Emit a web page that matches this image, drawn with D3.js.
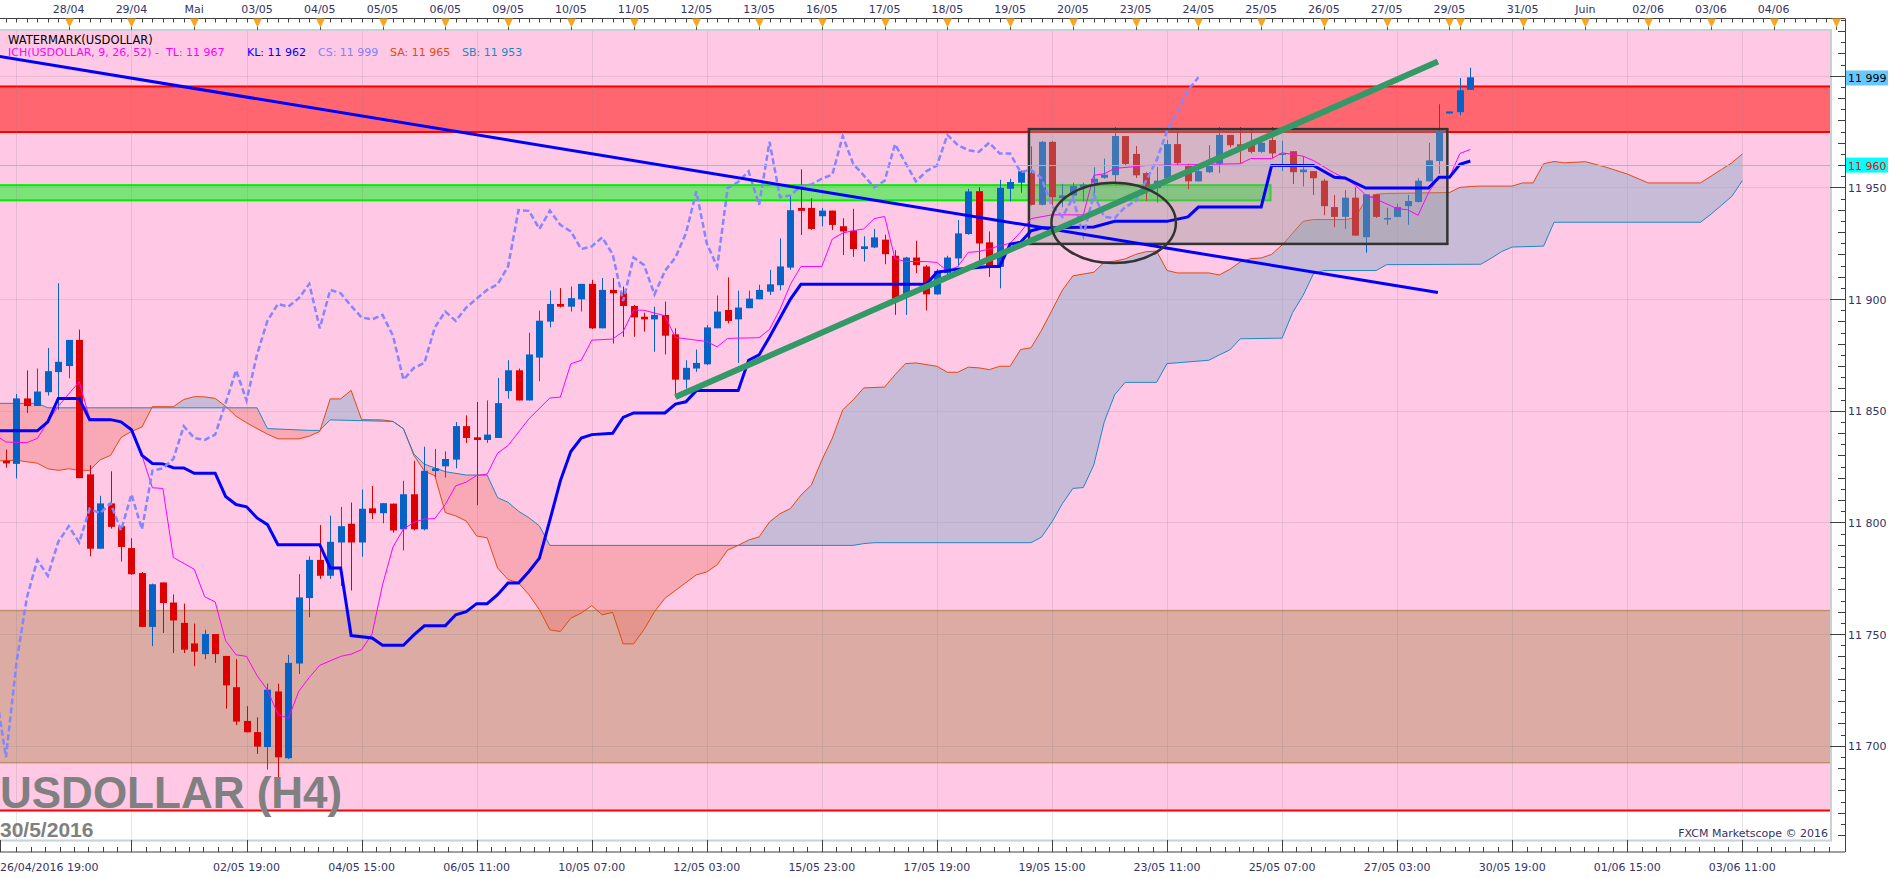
<!DOCTYPE html>
<html>
<head>
<meta charset="utf-8">
<script src="https://cdn.jsdelivr.net/npm/d3@7"></script>
<style>
body { margin: 0; background: #fff; }
svg { display: block; }
text { font-family: "DejaVu Sans", Verdana, sans-serif; }
</style>
</head>
<body>
<script>
var w = 1903,
    h = 878;

var plotL = 0, plotR = 1830, plotT = 31, plotB = 840;
var axisX = 1845, topAxisY = 18.5, botAxisY = 852;

// candles, H4, first visible bar is bar 1
var firstBar = 1;
var opens  = [11827.6,11826.2,11855.5,11852.1,11858.3,11867.3,11870.0,11881.7,11821.5,11788.2,
              11808.5,11798.3,11788.5,11777.3,11753.2,11773.1,11764.1,11755.0,11745.8,11741.0,
              11750.0,11740.2,11726.2,11711.1,11706.1,11699.4,11724.3,11694.4,11736.8,11766.1,
              11783.2,11776.1,11791.0,11799.4,11791.0,11806.3,11804.1,11808.4,11796.9,11812.6,
              11796.9,11823.0,11825.1,11828.1,11843.1,11838.1,11836.9,11837.8,11858.8,11868.1,
              11854.6,11873.8,11889.9,11897.8,11896.6,11899.9,11906.8,11886.9,11904.1,11902.9,
              11896.9,11892.1,11890.9,11892.9,11884.2,11863.9,11868.9,11870.8,11886.9,11895.1,
              11890.9,11895.9,11899.9,11903.3,11906.2,11914.1,11940.8,11940.8,11937.1,11939.6,
              11932.6,11930.6,11922.4,11923.1,11926.6,11919.4,11901.4,11918.6,11914.6,11902.1,
              11911.6,11918.2,11929.1,11948.3,11925.4,11914.4,11949.4,11952.1,11956.4,11942.2,
              11970.4,11945.2,11946.4,11950.1,11952.1,11954.3,11955.5,11973.0,11965.0,11956.4,
              11949.7,11954.1,11969.4,11959.8,11952.7,11956.8,11960.6,11973.5,11969.3,11969.3,
              11965.9,11971.2,11964.6,11966.2,11956.8,11957.3,11953.0,11941.2,11936.8,11945.4,
              11927.7,11946.9,11936.0,11936.8,11941.6,11943.5,11952.7,11961.8,11983.1,11983.7,
              11993.7];
var highs  = [11832.6,11857.5,11868.0,11868.9,11878.1,11907.1,11881.7,11886.3,11825.6,11811.9,
              11822.9,11798.3,11792.9,11777.8,11772.6,11773.1,11767.7,11763.6,11754.7,11751.9,
              11750.0,11740.2,11738.8,11717.7,11712.7,11727.8,11727.8,11740.7,11776.8,11784.8,
              11798.8,11803.0,11806.9,11808.9,11814.7,11816.3,11808.6,11808.4,11818.6,11827.6,
              11833.9,11832.9,11831.8,11844.9,11847.9,11853.9,11854.6,11864.7,11872.6,11868.9,
              11884.9,11894.8,11903.8,11904.9,11905.6,11906.8,11908.6,11909.4,11909.4,11905.6,
              11897.4,11893.9,11896.6,11898.9,11886.9,11872.6,11877.4,11888.4,11901.6,11909.7,
              11903.8,11903.8,11906.4,11913.1,11927.2,11946.1,11958.1,11945.2,11940.8,11939.6,
              11936.2,11940.4,11928.1,11931.4,11928.8,11921.9,11918.9,11926.1,11915.3,11913.4,
              11919.4,11935.4,11949.4,11950.1,11930.3,11953.4,11953.9,11957.6,11968.4,11970.8,
              11970.8,11951.6,11952.1,11952.1,11959.0,11962.9,11977.0,11973.0,11968.5,11956.8,
              11959.1,11971.2,11975.0,11960.6,11959.8,11968.9,11977.0,11973.5,11977.0,11975.8,
              11973.1,11977.0,11970.9,11966.2,11963.9,11957.3,11953.8,11946.6,11948.8,11950.0,
              11946.9,11946.9,11940.9,11942.7,11946.6,11954.1,11970.0,11987.2,11984.0,11999.0,
              12003.6];
var lows   = [11824.5,11819.7,11849.0,11852.1,11856.8,11850.5,11864.5,11819.8,11784.8,11788.2,
              11797.2,11782.5,11776.5,11753.2,11744.6,11750.5,11741.5,11741.5,11735.6,11738.7,
              11737.1,11716.6,11709.3,11706.0,11696.3,11689.3,11683.0,11694.0,11732.1,11757.5,
              11774.7,11774.7,11771.5,11769.5,11784.6,11801.5,11799.6,11795.4,11787.4,11796.4,
              11796.4,11820.1,11820.1,11824.2,11835.6,11807.7,11835.6,11837.8,11855.4,11854.6,
              11854.6,11863.2,11887.3,11896.2,11894.4,11894.4,11886.6,11886.9,11880.1,11883.1,
              11883.1,11885.4,11876.4,11875.2,11856.1,11859.9,11867.4,11870.4,11886.9,11889.1,
              11871.4,11895.9,11899.9,11901.8,11903.9,11913.1,11928.7,11931.0,11932.6,11930.9,
              11919.7,11918.9,11916.8,11922.8,11915.6,11892.9,11892.9,11911.6,11894.9,11901.8,
              11910.7,11914.6,11928.8,11915.9,11909.9,11904.8,11943.7,11947.6,11941.9,11941.9,
              11941.9,11941.1,11945.6,11943.7,11946.4,11953.9,11951.2,11959.6,11954.2,11943.9,
              11943.2,11953.0,11959.8,11949.2,11952.7,11956.4,11956.4,11967.9,11960.6,11965.2,
              11965.5,11962.9,11957.3,11951.5,11950.4,11946.6,11937.5,11932.1,11931.5,11928.4,
              11920.8,11936.3,11933.3,11936.6,11933.3,11943.2,11952.7,11956.1,11983.1,11982.3,
              11993.7];
var closes = [11826.4,11855.5,11852.1,11858.6,11867.7,11871.9,11881.7,11819.8,11788.2,11808.5,
              11798.0,11789.0,11776.8,11753.2,11772.3,11763.9,11756.1,11743.0,11742.1,11750.0,
              11741.0,11727.0,11710.8,11706.0,11699.6,11725.1,11694.8,11737.1,11766.4,11783.2,
              11776.1,11791.3,11798.3,11791.0,11806.1,11804.1,11808.6,11796.4,11812.6,11796.9,
              11823.1,11824.2,11828.4,11843.1,11837.8,11836.9,11839.3,11853.4,11868.1,11854.6,
              11875.2,11890.3,11897.8,11896.6,11900.4,11906.8,11886.9,11904.1,11902.6,11896.9,
              11891.8,11890.9,11892.9,11883.6,11863.9,11869.2,11871.4,11887.3,11894.4,11890.2,
              11896.2,11900.2,11904.1,11906.6,11914.6,11939.8,11939.5,11931.4,11939.6,11933.2,
              11930.3,11922.4,11923.6,11927.6,11920.1,11899.1,11918.6,11915.2,11902.1,11912.6,
              11918.6,11929.4,11948.2,11924.9,11914.4,11949.8,11952.4,11957.2,11942.2,11970.4,
              11945.6,11946.4,11950.6,11951.3,11953.9,11955.7,11973.0,11960.5,11955.4,11950.0,
              11953.0,11969.4,11960.9,11952.7,11957.3,11959.8,11973.5,11968.9,11966.7,11965.9,
              11970.0,11965.2,11965.2,11956.8,11958.0,11954.1,11941.6,11936.8,11945.4,11928.4,
              11946.9,11936.8,11936.3,11941.2,11943.9,11953.0,11962.1,11975.3,11984.0,11993.5,
              11999.3];

// ichimoku lines: [bar, price]
var tenkan = [[0,11839],[1,11836],[3,11835.7],[4,11837.6],[5,11845],[6,11852],[7,11857.5],[8,11863],
  [9,11846.5],[11,11846.2],[12,11845],[13,11842],[14,11830],[15,11815.5],[16,11815.2],[17,11784.3],
  [19,11779],[20,11766.7],[21,11764.4],[22,11747],[23,11740.7],[24,11740],[25,11731.4],[26,11725],
  [27,11714],[28,11712.2],[29,11724.4],[30,11730.6],[31,11736],[33,11740],[34,11741],[35,11743],
  [36,11750],[37,11772],[38,11789],[39,11797],[40,11800],[41,11801.5],[42,11801.7],[43,11808],
  [44,11816.4],[45,11818],[46,11821],[47,11821.6],[48,11831],[49,11834.4],[51,11846.4],[53,11855.7],
  [54,11856.1],[55,11871],[56,11872.6],[57,11881.6],[59,11882.1],[60,11885.4],[61,11895.1],[62,11895],
  [64,11892.5],[65,11882.8],[68,11881],[69,11878.6],[70,11882.4],[73,11882.7],[74,11886.4],[75,11895.4],
  [76,11906.6],[77,11914.6],[79,11914.6],[80,11926.9],[81,11929.6],[82,11930.6],[83,11931.4],[84,11936],
  [85,11937],[86,11918],[87,11916.8],[89,11916.8],[90,11916.4],[91,11912.6],[92,11914.6],[93,11920.9],
  [94,11921.3],[95,11922.4],[96,11923.9],[97,11925],[98,11930],[99,11936],[101,11937.7],[104,11937.7],
  [105,11955.4],[106,11956.1],[107,11958.5],[110,11959.8],[119,11960.6],[120,11962.9],[122,11962.9],
  [123,11965.5],[125,11964],[126,11962],[128,11956.4],[129,11954.2],[130,11951],[131,11946.6],
  [132,11944.7],[134,11940.5],[135,11940],[136,11937.5],[137,11947.7],[138,11954.5],[139,11954.5],
  [140,11965.2],[141,11967]];

var kijun = [[0,11841],[4,11841],[5,11845],[6,11855.5],[8,11855.5],[9,11846],[11,11846],[12,11845],
  [13,11841.5],[14,11830],[15,11826.4],[16,11826.2],[17,11824.5],[18,11824.4],[19,11822],[21,11822],
  [22,11811.6],[23,11808],[24,11807],[25,11802],[26,11799],[27,11790],[31,11790],[32,11779.6],
  [33,11779.6],[34,11749.3],[36,11748.2],[37,11745],[39,11745],[40,11749.6],[41,11753.7],[43,11753.7],
  [44,11758.6],[45,11760],[46,11763.6],[47,11763.6],[48,11767.6],[49,11772.9],[50,11772.9],[51,11778],
  [52,11784],[53,11801],[54,11818.6],[55,11831.7],[56,11837.8],[57,11839.3],[59,11839.9],[60,11847],
  [61,11849],[64,11849],[65,11853],[66,11854],[67,11859],[71,11859],[72,11872.6],[73,11875],
  [74,11883],[75,11891.5],[76,11900],[77,11906.6],[89,11906.6],[90,11912],[92,11913.4],[95,11914.6],
  [96,11914.6],[97,11924.6],[98,11925.4],[99,11930.6],[100,11931.8],[105,11932.3],[107,11934.8],
  [112,11934.8],[114,11936.8],[115,11941.2],[121,11941.2],[122,11959.8],[126,11959.8],[128,11954.5],
  [129,11954.2],[131,11949.7],[137,11949.7],[138,11954.5],[139,11954.5],[140,11960.3],[141,11961.8]];

var senkouA = [[0,11827.5],[2,11827.8],[4,11826.5],[5,11824],[6,11823.3],[7,11824],[8,11823.3],[9,11823.3],
  [10,11828],[11,11830],[12,11838],[13,11840.7],[14,11842.7],[15,11851.8],[17,11851.8],[18,11855],
  [19,11856.3],[20,11856.2],[21,11855.5],[22,11852],[23,11847.5],[24,11844.6],[25,11842],[26,11839.5],
  [27,11837.4],[29,11837.4],[30,11838.6],[31,11840.7],[32,11855.3],[33,11855.3],[34,11859.1],[35,11846],
  [37,11845.9],[38,11845.2],[39,11841.9],[40,11830],[41,11823],[42,11820.9],[43,11804.4],[44,11802.9],
  [45,11800.6],[46,11793.9],[47,11793.1],[48,11779.6],[49,11774.4],[50,11772.9],[51,11767.6],[52,11760.9],
  [53,11751.9],[54,11751.1],[55,11757.1],[56,11759.4],[57,11762.7],[58,11758.6],[59,11759.7],[60,11745.6],
  [61,11745.6],[62,11752],[63,11760],[64,11766],[65,11769.5],[66,11773],[67,11776.5],[68,11777.8],
  [69,11781.1],[70,11787.6],[71,11789.7],[72,11792.1],[73,11793.5],[74,11800.2],[75,11803.9],[76,11806.2],
  [77,11812.2],[78,11816.7],[79,11827.9],[80,11837.7],[81,11850.4],[82,11854.9],[83,11860.2],[85,11860.6],
  [86,11866.1],[87,11871.1],[88,11871.4],[90,11869.9],[91,11867.2],[92,11867.2],[93,11869.5],[94,11869.2],
  [95,11868.4],[96,11869.9],[97,11869.9],[98,11877.4],[99,11878.2],[100,11886],[101,11895],[102,11904],
  [103,11910.4],[105,11912],[106,11916.5],[107,11917],[108,11918],[109,11920],[110,11921.2],[111,11921.5],
  [112,11912.8],[113,11911.7],[116,11911.7],[117,11910.8],[118,11913.3],[119,11916.6],[120,11918.1],
  [121,11918.4],[122,11920],[123,11924.2],[124,11929.5],[125,11934.8],[126,11935.6],[129,11935.6],
  [130,11936.3],[131,11944.7],[132,11946.9],[133,11947.3],[139,11947.7],[140,11950],[141,11950.4],
  [142,11950.6],[145,11950.6],[146,11952],[147,11952],[148,11960.6],[149,11961.6],[150,11961],
  [152,11961.5],[154,11959],[156,11956],[158,11952],[163,11952],[164,11955],[165,11958],[166,11961],
  [167,11965]];

var senkouB = [[0,11853.3],[4,11853.3],[5,11851.3],[25,11851.3],[26,11842],[30,11841.2],[31,11841.2],
  [32,11845.9],[38,11845.2],[39,11841.9],[40,11830.6],[41,11826.1],[43,11822.7],[45,11821.2],[47,11821.2],
  [48,11811.1],[49,11809],[50,11805],[51,11802.1],[52,11798.4],[53,11789.7],[82,11789.7],[83,11790.5],
  [84,11790.9],[99,11790.9],[100,11793.4],[101,11800.2],[102,11808.4],[103,11815.2],[104,11815.6],
  [105,11825.7],[106,11845],[107,11857.2],[108,11862.7],[111,11862.7],[112,11871.1],[116,11872.6],
  [117,11875],[118,11877.2],[119,11882.2],[123,11882.5],[124,11893.9],[125,11901.6],[126,11911.3],
  [127,11912.8],[132,11912.8],[133,11915.4],[142,11915.6],[143,11918.3],[144,11921.3],[145,11923.3],
  [148,11923.7],[149,11934.4],[163,11934.4],[164,11938],[165,11942],[166,11946],[167,11953]];

var chikouShift = 26;

// drawn objects, in [bar, price]
var downTrend = [[0, 12008.9], [137.9, 11902.9]];
var upTrend = [[65, 11856.1], [137.9, 12006.4]];
var boxBars = [98.8, 138.8], boxPrices = [11976.1, 11924.7];
var ellipseCenter = [106.9, 11934.1], ellipseRadius = [5.95, 18.0];

// price zones
var pinkFloor = 11671;
var redZone = [11974.8, 11995.2];
var greenZone = [11944.2, 11951], greenEndBar = 121.9;
var brownZone = [11692.4, 11760.5];
var cyanLevel = 11960;

// axes
var priceTicks = [11700, 11750, 11800, 11850, 11900, 11950];
var dayBars = [7,13,19,25,31,37,43,49,55,61,67,73,79,85,91,97,103,109,115,121,127,133,139,140,146,152,158,164,170,176];
var dayLabels = ['28/04','29/04','Mai','03/05','04/05','05/05','06/05','09/05','10/05','11/05','12/05','13/05',
  '16/05','17/05','18/05','19/05','20/05','23/05','24/05','25/05','26/05','27/05','29/05','','31/05','Juin',
  '02/06','03/06','04/06',''];
var timeBars = [24,35,46,57,68,79,90,101,112,123,134,145,156,167];
var timeLabels = ['02/05 19:00','04/05 15:00','06/05 11:00','10/05 07:00','12/05 03:00','15/05 23:00',
  '17/05 19:00','19/05 15:00','23/05 11:00','25/05 07:00','27/05 03:00','30/05 19:00','01/06 15:00','03/06 11:00'];
var firstTimeLabel = '26/04/2016 19:00';

var x = d3.scaleLinear().domain([0, 100]).range([-4.5, 1041.5]);
var y = d3.scaleLinear().domain([11700, 11950]).range([745.7, 187.4]);

var fmt = d3.formatLocale({decimal: '.', thousands: ' ', grouping: [3], currency: ['', '']}).format(',d');

var svg = d3.select('body')
          .append('svg')
          .attr('width', w)
          .attr('height', h);

var defs = svg.append('defs');
defs.append('clipPath').attr('id', 'plotClip')
    .append('rect')
    .attr('x', plotL).attr('y', plotT)
    .attr('width', plotR - plotL).attr('height', plotB - plotT);

var belowArea = function(d) {
  return d3.area().x(function(p) { return x(p[0]); })
    .y0(plotB + 20).y1(function(p) { return y(p[1]); })(d);
};
var aboveArea = function(d) {
  return d3.area().x(function(p) { return x(p[0]); })
    .y0(function(p) { return y(p[1]); }).y1(plotT - 20)(d);
};
defs.append('clipPath').attr('id', 'belowSA').append('path').attr('d', belowArea(senkouA));
defs.append('clipPath').attr('id', 'belowSB').append('path').attr('d', belowArea(senkouB));

var line = d3.line()
          .x(function(d) { return x(d[0]); })
          .y(function(d) { return y(d[1]); });

var plot = svg.append('g').attr('clip-path', 'url(#plotClip)');

// zones
plot.append('rect')
    .attr('x', plotL).attr('y', plotT)
    .attr('width', plotR - plotL).attr('height', y(pinkFloor) - plotT)
    .attr('fill', '#ffc9e5');

plot.append('rect')
    .attr('x', plotL - 2).attr('y', y(redZone[1]))
    .attr('width', plotR - plotL + 4).attr('height', y(redZone[0]) - y(redZone[1]))
    .attr('fill', '#ff6670').attr('stroke', '#ff0000').attr('stroke-width', 2);

plot.append('rect')
    .attr('x', plotL - 5).attr('y', y(greenZone[1]))
    .attr('width', x(greenEndBar) + 5).attr('height', y(greenZone[0]) - y(greenZone[1]))
    .attr('fill', '#7ee27a').attr('stroke', '#00ee00').attr('stroke-width', 2);

plot.append('rect')
    .attr('x', plotL - 2).attr('y', y(brownZone[1]))
    .attr('width', plotR - plotL + 4).attr('height', y(brownZone[0]) - y(brownZone[1]))
    .attr('fill', '#dcaba4').attr('stroke', '#c0906a').attr('stroke-width', 1.5);

plot.append('line')
    .attr('x1', plotL).attr('x2', plotR)
    .attr('y1', y(pinkFloor)).attr('y2', y(pinkFloor))
    .attr('stroke', '#ff0000').attr('stroke-width', 2);

// grid
var gridBars = d3.range(2, 178, 11);
plot.selectAll('.vgrid').data(gridBars).enter().append('line')
    .attr('x1', function(d) { return Math.round(x(d)) + 0.5; })
    .attr('x2', function(d) { return Math.round(x(d)) + 0.5; })
    .attr('y1', plotT).attr('y2', plotB)
    .attr('stroke', 'rgba(128,128,128,0.2)');
plot.selectAll('.hgrid').data(d3.range(11650, 12050, 50)).enter().append('line')
    .attr('x1', plotL).attr('x2', plotR)
    .attr('y1', function(d) { return Math.round(y(d)) + 0.5; })
    .attr('y2', function(d) { return Math.round(y(d)) + 0.5; })
    .attr('stroke', 'rgba(128,128,128,0.2)');

// cloud
plot.append('g').attr('clip-path', 'url(#belowSA)')
    .append('path').attr('d', aboveArea(senkouB))
    .attr('fill', 'rgba(145,174,204,0.5)');
plot.append('g').attr('clip-path', 'url(#belowSB)')
    .append('path').attr('d', aboveArea(senkouA))
    .attr('fill', 'rgba(240,120,110,0.4)');

plot.append('path').attr('d', line(senkouA))
    .attr('fill', 'none').attr('stroke', '#e04a14').attr('stroke-width', 1);
plot.append('path').attr('d', line(senkouB))
    .attr('fill', 'none').attr('stroke', '#1e88c4').attr('stroke-width', 1);

// candles
var candles = opens.map(function(o, k) {
  return {bar: firstBar + k, o: o, h: highs[k], l: lows[k], c: closes[k]};
});
var cg = plot.selectAll('.candle').data(candles).enter().append('g');
cg.append('line')
    .attr('x1', function(d) { return Math.round(x(d.bar)) + 0.5; })
    .attr('x2', function(d) { return Math.round(x(d.bar)) + 0.5; })
    .attr('y1', function(d) { return y(d.h); })
    .attr('y2', function(d) { return y(d.l); })
    .attr('stroke', function(d) { return d.c >= d.o ? '#0562c6' : '#dd0000'; })
    .attr('stroke-width', 1);
cg.append('rect')
    .attr('x', function(d) { return Math.round(x(d.bar)) - 3; })
    .attr('width', 7)
    .attr('y', function(d) { return y(Math.max(d.o, d.c)); })
    .attr('height', function(d) { return Math.max(1.5, Math.abs(y(d.o) - y(d.c))); })
    .attr('fill', function(d) { return d.c >= d.o ? '#0562c6' : '#dd0000'; });

// box
plot.append('rect')
    .attr('x', x(boxBars[0])).attr('y', y(boxPrices[0]))
    .attr('width', x(boxBars[1]) - x(boxBars[0]))
    .attr('height', y(boxPrices[1]) - y(boxPrices[0]))
    .attr('fill', 'rgba(150,150,150,0.4)')
    .attr('stroke', '#333').attr('stroke-width', 2.5);

// indicator lines
plot.append('path').attr('d', line(tenkan))
    .attr('fill', 'none').attr('stroke', '#ff00ff').attr('stroke-width', 1);
plot.append('path').attr('d', line(kijun))
    .attr('fill', 'none').attr('stroke', '#0000ff').attr('stroke-width', 3);
plot.append('path')
    .attr('d', line(candles.map(function(d) { return [d.bar - chikouShift, d.c]; })))
    .attr('fill', 'none').attr('stroke', '#8585ff').attr('stroke-width', 2.5)
    .attr('stroke-dasharray', '6,3');

plot.append('line')
    .attr('x1', plotL).attr('x2', plotR)
    .attr('y1', y(cyanLevel) + 0.5).attr('y2', y(cyanLevel) + 0.5)
    .attr('stroke', '#00ffff').attr('stroke-width', 1);

// trend lines and ellipse
plot.append('path').attr('d', line(downTrend))
    .attr('stroke', '#0000ff').attr('stroke-width', 3).attr('fill', 'none');
plot.append('path').attr('d', line(upTrend))
    .attr('stroke', '#339966').attr('stroke-width', 6).attr('fill', 'none');
plot.append('ellipse')
    .attr('cx', x(ellipseCenter[0])).attr('cy', y(ellipseCenter[1]))
    .attr('rx', x(ellipseCenter[0] + ellipseRadius[0]) - x(ellipseCenter[0]))
    .attr('ry', y(ellipseCenter[1] - ellipseRadius[1]) - y(ellipseCenter[1]))
    .attr('fill', 'none').attr('stroke', '#333').attr('stroke-width', 2.5);

// legend
svg.append('text').attr('x', 8).attr('y', 44)
    .attr('font-size', 11.5).attr('fill', '#000').text('WATERMARK(USDOLLAR)');
var legendParts = [
  {x: 8, t: 'ICH(USDOLLAR, 9, 26, 52) -  TL: 11 967', c: '#ff00ff'},
  {x: 247, t: 'KL: 11 962', c: '#0000ff'},
  {x: 318, t: 'CS: 11 999', c: '#8080ff'},
  {x: 390, t: 'SA: 11 965', c: '#e04a14'},
  {x: 462, t: 'SB: 11 953', c: '#1e88c4'}
];
svg.selectAll('.leg').data(legendParts).enter().append('text')
    .attr('x', function(d) { return d.x; }).attr('y', 56)
    .attr('font-size', 11).attr('fill', function(d) { return d.c; })
    .attr('xml:space', 'preserve')
    .style('white-space', 'pre')
    .text(function(d) { return d.t; });

svg.append('text').attr('x', 0).attr('y', 808)
    .style('font-family', '"Liberation Sans", Arial, sans-serif')
    .attr('font-size', 44).attr('font-weight', 'bold').attr('fill', '#808080')
    .text('USDOLLAR (H4)');
svg.append('text').attr('x', 0).attr('y', 837)
    .style('font-family', '"Liberation Sans", Arial, sans-serif')
    .attr('font-size', 21).attr('font-weight', 'bold').attr('fill', '#808080')
    .text('30/5/2016');
svg.append('text').attr('x', 1828).attr('y', 837)
    .attr('text-anchor', 'end').attr('font-size', 11).attr('fill', '#333366')
    .text('FXCM Marketscope © 2016');

// plot frame
svg.append('rect')
    .attr('x', plotL - 2).attr('y', plotT - 1)
    .attr('width', plotR - plotL + 3).attr('height', plotB - plotT + 1.5)
    .attr('fill', 'none').attr('stroke', '#c8d0d8').attr('stroke-width', 2);

// top axis
var axisCol = '#404040', labCol = '#333366';
svg.append('line').attr('x1', 0).attr('x2', axisX)
    .attr('y1', topAxisY).attr('y2', topAxisY).attr('stroke', axisCol);
svg.selectAll('.tmin').data(d3.range(0, 177)).enter().append('line')
    .attr('x1', function(d) { return Math.round(x(d)) + 0.5; })
    .attr('x2', function(d) { return Math.round(x(d)) + 0.5; })
    .attr('y1', topAxisY).attr('y2', topAxisY + 4)
    .attr('stroke', axisCol);
var dg = svg.selectAll('.day').data(dayBars).enter().append('g');
dg.append('line')
    .attr('x1', function(d) { return Math.round(x(d)) + 0.5; })
    .attr('x2', function(d) { return Math.round(x(d)) + 0.5; })
    .attr('y1', topAxisY).attr('y2', 30)
    .attr('stroke', '#555');
dg.append('path')
    .attr('d', function(d) {
      var cx = Math.round(x(d)) + 0.5;
      return 'M' + (cx - 4.5) + ',' + topAxisY + 'L' + (cx + 4.5) + ',' + topAxisY + 'L' + cx + ',' + (topAxisY + 9) + 'Z';
    })
    .attr('fill', '#f6a623');
dg.append('text')
    .attr('x', function(d) { return x(d); }).attr('y', 13)
    .attr('text-anchor', 'middle').attr('font-size', 11).attr('fill', labCol)
    .text(function(d, k) { return dayLabels[k]; });

// bottom axis
svg.append('line').attr('x1', 0).attr('x2', axisX)
    .attr('y1', botAxisY).attr('y2', botAxisY).attr('stroke', axisCol);
var minorBars = d3.range(2, 176, 11 / 8);
svg.selectAll('.bmin').data(minorBars).enter().append('line')
    .attr('x1', function(d) { return Math.round(x(d)) + 0.5; })
    .attr('x2', function(d) { return Math.round(x(d)) + 0.5; })
    .attr('y1', botAxisY - 5).attr('y2', botAxisY)
    .attr('stroke', axisCol);
svg.selectAll('.bmaj').data([0].concat(d3.range(13, 176, 11))).enter().append('line')
    .attr('x1', function(d) { return d === 0 ? 0.5 : Math.round(x(d)) + 0.5; })
    .attr('x2', function(d) { return d === 0 ? 0.5 : Math.round(x(d)) + 0.5; })
    .attr('y1', plotB).attr('y2', botAxisY)
    .attr('stroke', axisCol);
svg.append('text').attr('x', 0).attr('y', 871)
    .attr('font-size', 11).attr('fill', labCol).text(firstTimeLabel);
svg.selectAll('.blab').data(timeBars).enter().append('text')
    .attr('x', function(d) { return x(d); }).attr('y', 871)
    .attr('text-anchor', 'middle').attr('font-size', 11).attr('fill', labCol)
    .text(function(d, k) { return timeLabels[k]; });

// right axis
svg.append('line').attr('x1', axisX + 0.5).attr('x2', axisX + 0.5)
    .attr('y1', topAxisY).attr('y2', botAxisY).attr('stroke', axisCol);
svg.selectAll('.rmin').data(d3.range(11660, 12030, 5)).enter().append('line')
    .attr('x1', function(d) { return axisX - (d % 10 === 0 ? 7 : 4); })
    .attr('x2', axisX)
    .attr('y1', function(d) { return Math.round(y(d)) + 0.5; })
    .attr('y2', function(d) { return Math.round(y(d)) + 0.5; })
    .attr('stroke', axisCol);
svg.selectAll('.rmaj').data(d3.range(11700, 12050, 50)).enter().append('line')
    .attr('x1', plotR).attr('x2', axisX)
    .attr('y1', function(d) { return Math.round(y(d)) + 0.5; })
    .attr('y2', function(d) { return Math.round(y(d)) + 0.5; })
    .attr('stroke', axisCol);
svg.selectAll('.rlab').data(priceTicks).enter().append('text')
    .attr('x', axisX + 3).attr('y', function(d) { return y(d) + 4.5; })
    .attr('font-size', 11).attr('fill', labCol)
    .text(function(d) { return fmt(d); });

var markers = [
  {v: Math.round(closes[closes.length - 1]), bg: '#66c8ff', fg: '#000'},
  {v: cyanLevel, bg: '#00ffff', fg: '#ff0000'}
];
var mg = svg.selectAll('.mark').data(markers).enter().append('g');
mg.append('rect')
    .attr('x', axisX + 1).attr('y', function(d) { return y(d.v) - 7.5; })
    .attr('width', 42).attr('height', 15)
    .attr('fill', function(d) { return d.bg; });
mg.append('text')
    .attr('x', axisX + 3).attr('y', function(d) { return y(d.v) + 4.5; })
    .attr('font-size', 11).attr('fill', function(d) { return d.fg; })
    .text(function(d) { return fmt(d.v); });
</script>
</body>
</html>
